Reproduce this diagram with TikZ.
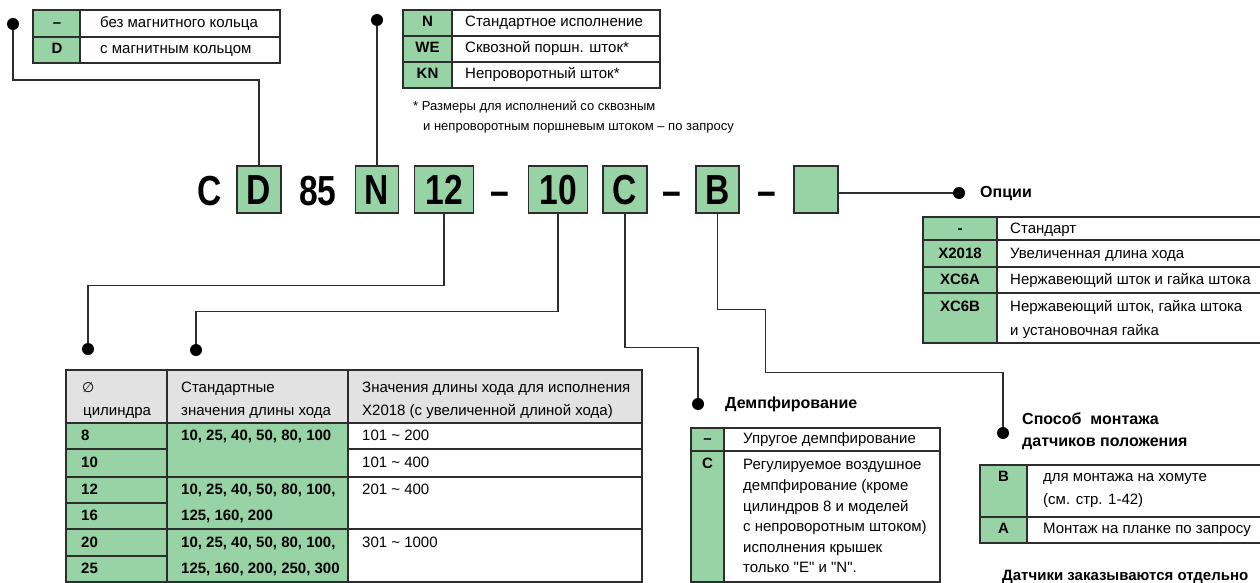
\documentclass[tikz,border=0pt]{standalone}
\usepackage{fontspec}
\setmainfont{Liberation Sans}
\newfontfamily\codefont[FakeStretch=0.8]{Liberation Sans}
\newfontfamily\symfont{DejaVu Sans}
\definecolor{keygreen}{RGB}{152,211,166}
\definecolor{headgray}{RGB}{226,226,226}
\definecolor{inkgray}{RGB}{45,45,45}
\tikzset{
  txt/.style={anchor=west, inner sep=0pt, font=\fontsize{15}{18}\selectfont,
    text height=11pt, text depth=3pt},
  keytxt/.style={txt, anchor=center, font=\fontsize{15}{18}\selectfont\bfseries},
  headtxt/.style={txt, font=\fontsize{16}{19}\selectfont\bfseries},
  notetxt/.style={txt, font=\fontsize{13}{16}\selectfont},
  codetxt/.style={inner sep=0pt, font=\codefont\fontsize{42}{42}\selectfont\bfseries,
    text height=30pt, text depth=0pt},
  codebox/.style={codetxt, draw=inkgray, line width=1.2pt, fill=keygreen,
    minimum height=47pt},
  tbl/.style={draw=inkgray, line width=1.2pt},
  link/.style={draw=inkgray, line width=1.3pt},
  pindot/.style={circle, fill=black, inner sep=0pt, minimum size=12pt}
}
\begin{document}
\begin{tikzpicture}[x=1pt, y=-1pt]
  \useasboundingbox (0,0) rectangle (1260,583);

  % order code
  \node[codetxt, anchor=base] (cC) at (210,205) {C};
  \node[codebox, minimum width=44pt] (boxD) at (259,189.5) {D};
  \node[codetxt, anchor=base] (c85) at (318,205) {85};
  \node[codebox, minimum width=43pt] (boxN) at (377,189.5) {N};
  \node[codebox, minimum width=59pt] (box12) at (444,189.5) {12};
  \node[codetxt, anchor=base] (d1) at (500,205) {–};
  \node[codebox, minimum width=59pt] (box10) at (558,189.5) {10};
  \node[codebox, minimum width=44pt] (boxC) at (625,189.5) {C};
  \node[codetxt, anchor=base] (d2) at (672,205) {–};
  \node[codebox, minimum width=43pt] (boxB) at (717.5,189.5) {B};
  \node[codetxt, anchor=base] (d3) at (767,205) {–};
  \node[codebox, minimum width=44pt] (boxOpt) at (816,189.5) {};

  % magnet ring
  \fill[keygreen] (33,10) rectangle (80,63);
  \draw[tbl] (33,10) rectangle (280,63) (33,37) -- (280,37) (80,10) -- (80,63);
  \node[keytxt] (kMag1) at (57,23.5) {–};
  \node[keytxt] (kMag2) at (57,50) {D};
  \node[txt] (tMag1) at (100,23.5) {без магнитного кольца};
  \node[txt] (tMag2) at (100,50) {с магнитным кольцом};
  \node[pindot] (dotMag) at (13,24) {};

  % rod version
  \fill[keygreen] (403,10) rectangle (452,88);
  \draw[tbl] (403,10) rectangle (660,88) (403,36) -- (660,36) (403,62) -- (660,62)
    (452,10) -- (452,88);
  \node[keytxt] (kRod1) at (427.5,23) {N};
  \node[keytxt] (kRod2) at (427.5,49) {WE};
  \node[keytxt] (kRod3) at (427.5,75) {KN};
  \node[txt] (tRod1) at (465,23) {Стандартное исполнение};
  \node[txt] (tRod2) at (465,49) {Сквозной поршн. шток*};
  \node[txt] (tRod3) at (465,75) {Непроворотный шток*};
  \node[pindot] (dotRod) at (377,20) {};
  \node[notetxt] (note1) at (413,107) {* Размеры для исполнений со сквозным};
  \node[notetxt] (note2) at (423,127) {и непроворотным поршневым штоком – по запросу};

  % options
  \node[pindot] (dotOpt) at (959,193) {};
  \node[headtxt] (hOpt) at (980,193) {Опции};
  \fill[keygreen] (923,217) rectangle (997,343);
  \draw[tbl] (1262,217) -- (923,217) -- (923,343) -- (1262,343)
    (923,240) -- (1262,240) (923,267) -- (1262,267) (923,293) -- (1262,293)
    (997,217) -- (997,343);
  \node[keytxt] (kOpt1) at (960,229) {-};
  \node[keytxt] (kOpt2) at (960,254) {X2018};
  \node[keytxt] (kOpt3) at (960,280) {XC6A};
  \node[keytxt] (kOpt4) at (960,307) {XC6B};
  \node[txt] (tOpt1) at (1010,229) {Стандарт};
  \node[txt] (tOpt2) at (1010,254) {Увеличенная длина хода};
  \node[txt] (tOpt3) at (1010,280) {Нержавеющий шток и гайка штока};
  \node[txt] (tOpt4) at (1010,307) {Нержавеющий шток, гайка штока};
  \node[txt] (tOpt5) at (1010,331) {и установочная гайка};

  % bore and stroke
  \node[pindot] (dotDia) at (88,349) {};
  \node[pindot] (dotStroke) at (196,350) {};
  \fill[headgray] (66,370) rectangle (642,423);
  \fill[keygreen] (66,423) rectangle (348,582);
  \draw[tbl] (66,370) rectangle (642,582)
    (167,370) -- (167,582) (348,370) -- (348,582)
    (66,423) -- (642,423) (66,449) -- (167,449) (348,449) -- (642,449)
    (66,477) -- (642,477) (66,503) -- (167,503) (66,529) -- (642,529)
    (66,556) -- (167,556);
  \node[txt] (hDia1) at (82,388) {\symfont\fontsize{14}{17}\selectfont ∅};
  \node[txt] (hDia2) at (83,411) {цилиндра};
  \node[txt] (hStd1) at (181,388) {Стандартные};
  \node[txt] (hStd2) at (181,411) {значения длины хода};
  \node[txt] (hExt1) at (362,388) {Значения длины хода для исполнения};
  \node[txt] (hExt2) at (362,411) {X2018 (с увеличенной длиной хода)};
  \node[keytxt, anchor=west] (b8) at (81,436) {8};
  \node[keytxt, anchor=west] (b10) at (81,463) {10};
  \node[keytxt, anchor=west] (b12) at (81,490) {12};
  \node[keytxt, anchor=west] (b16) at (81,516) {16};
  \node[keytxt, anchor=west] (b20) at (81,543) {20};
  \node[keytxt, anchor=west] (b25) at (81,569) {25};
  \node[keytxt, anchor=west] (s1) at (181,436) {10, 25, 40, 50, 80, 100};
  \node[keytxt, anchor=west] (s2) at (181,490) {10, 25, 40, 50, 80, 100,};
  \node[keytxt, anchor=west] (s2b) at (181,516) {125, 160, 200};
  \node[keytxt, anchor=west] (s3) at (181,543) {10, 25, 40, 50, 80, 100,};
  \node[keytxt, anchor=west] (s3b) at (181,569) {125, 160, 200, 250, 300};
  \node[txt] (x1) at (362,436) {101 \textasciitilde{} 200};
  \node[txt] (x2) at (362,463) {101 \textasciitilde{} 400};
  \node[txt] (x3) at (362,490) {201 \textasciitilde{} 400};
  \node[txt] (x4) at (362,543) {301 \textasciitilde{} 1000};

  % cushion
  \node[pindot] (dotCush) at (698,404) {};
  \node[headtxt] (hCush) at (725,404) {Демпфирование};
  \fill[keygreen] (691,428) rectangle (724,582);
  \draw[tbl] (691,428) rectangle (940,582) (691,451) -- (940,451) (724,428) -- (724,582);
  \node[keytxt] (kCush1) at (707.5,439) {–};
  \node[keytxt] (kCush2) at (707.5,464) {C};
  \node[txt] (tCush1) at (743,439) {Упругое демпфирование};
  \node[txt] (tCush2) at (743,465) {Регулируемое воздушное};
  \node[txt] (tCush3) at (743,486) {демпфирование (кроме};
  \node[txt] (tCush4) at (743,507) {цилиндров 8 и моделей};
  \node[txt] (tCush5) at (743,527) {с непроворотным штоком)};
  \node[txt] (tCush6) at (743,548) {исполнения крышек};
  \node[txt] (tCush7) at (743,568) {только \textquotedbl E\textquotedbl{} и \textquotedbl N\textquotedbl.};

  % switch mounting
  \node[pindot] (dotMount) at (1003,433) {};
  \node[headtxt] (hMount1) at (1022,420) {Способ\ \ монтажа};
  \node[headtxt] (hMount2) at (1022,442) {датчиков положения};
  \fill[keygreen] (980,465) rectangle (1027,543);
  \draw[tbl] (1262,465) -- (980,465) -- (980,543) -- (1262,543)
    (980,517) -- (1262,517) (1027,465) -- (1027,543);
  \node[keytxt] (kMount1) at (1003.5,477) {B};
  \node[keytxt] (kMount2) at (1003.5,529) {A};
  \node[txt] (tMount1) at (1043,477) {для монтажа на хомуте};
  \node[txt] (tMount2) at (1043,500) {(см. стр. 1-42)};
  \node[txt] (tMount3) at (1043,529) {Монтаж на планке по запросу};
  \node[headtxt, font=\fontsize{15}{18}\selectfont\bfseries] (hSep) at (1002,576)
    {Датчики заказываются отдельно};

  % connectors
  \draw[link] (dotMag) -- ++(0,56) -| (boxD.north);
  \draw[link] (dotRod) -- (boxN.north);
  \draw[link] (box12.south) -- ++(0,72) -| (dotDia);
  \draw[link] (box10.south) -- ++(0,98) -| (dotStroke);
  \draw[link] (boxC.south) -- ++(0,134) -| (dotCush);
  \draw[link] (boxB.south) -- ++(0,96) -| ++(48,63) -| (dotMount);
  \draw[link] (boxOpt.east |- dotOpt) -- (dotOpt);
\end{tikzpicture}
\end{document}
